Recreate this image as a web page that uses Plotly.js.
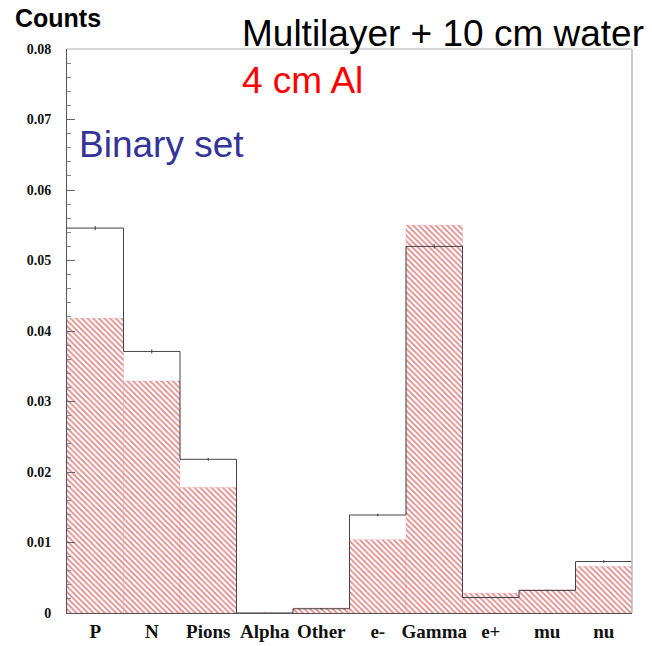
<!DOCTYPE html>
<html>
<head>
<meta charset="utf-8">
<script src="https://cdn.plot.ly/plotly-3.0.1.min.js"></script>
<style>html,body{margin:0;padding:0;background:#fff;}#chart{width:652px;height:646px;}</style>
</head>
<body>
<div id="chart"></div>
<script>
// Data
const categories = ["P", "N", "Pions", "Alpha", "Other", "e-", "Gamma", "e+", "mu", "nu"];
const binaryCounts = [0.0546, 0.0371, 0.0218, 0.0000, 0.0006, 0.0139, 0.0520, 0.0022, 0.0032, 0.0073];
const binaryErrors = [0.0003, 0.0003, 0.0002, 0.0000, 0.0001, 0.0002, 0.0003, 0.0001, 0.0001, 0.0002];
const alCounts = [0.0418, 0.0329, 0.0178, 0.0000, 0.0007, 0.0104, 0.0550, 0.0028, 0.0033, 0.0066];
const yTickVals = [0, 0.01, 0.02, 0.03, 0.04, 0.05, 0.06, 0.07, 0.08];
const yTickText = ["0", "0.01", "0.02", "0.03", "0.04", "0.05", "0.06", "0.07", "0.08"];

const centers = categories.map((c, i) => i + 0.5);
// step outline built from bin edges
const stepX = categories.map((c, i) => i).concat([categories.length]);
const stepY = binaryCounts.concat([binaryCounts[binaryCounts.length - 1]]);

const traces = [
  {
    type: "bar", x: centers, y: alCounts, width: 1,
    marker: {
      color: "#ffffff",
      line: {color: "rgba(225,120,120,0.5)", width: 0.5},
      pattern: {shape: "\\", fgcolor: "#e08585", bgcolor: "#ffffff", size: 4, solidity: 0.4}
    },
    hoverinfo: "skip", showlegend: false
  },
  {
    type: "scatter", mode: "lines", x: stepX, y: stepY,
    line: {shape: "hv", color: "#444", width: 1},
    hoverinfo: "skip", showlegend: false
  },
  {
    type: "scatter", mode: "markers", x: centers, y: binaryCounts,
    marker: {size: 1, color: "#444"},
    error_y: {type: "data", array: binaryErrors, visible: true, color: "#444", thickness: 1, width: 0},
    hoverinfo: "skip", showlegend: false
  }
];

const layout = {
  width: 652, height: 646,
  margin: {l: 67, r: 20, t: 49, b: 33, pad: 0},
  paper_bgcolor: "#fff", plot_bgcolor: "#fff",
  showlegend: false,
  bargap: 0,
  xaxis: {
    range: [0, categories.length], tickmode: "array", tickvals: centers, ticktext: categories,
    ticks: "", showgrid: false, zeroline: false,
    showline: true, linecolor: "#555", linewidth: 1,
    ticklabelstandoff: 1,
    tickfont: {family: "Liberation Serif", size: 19, color: "#111", weight: "bold"},
    fixedrange: true
  },
  yaxis: {
    range: [0, 0.08], tickmode: "array", tickvals: yTickVals, ticktext: yTickText,
    ticks: "inside", ticklen: 8, tickcolor: "#666", tickwidth: 1,
    minor: {dtick: 0.002, ticks: "inside", ticklen: 4, tickcolor: "#888", tickwidth: 1},
    showgrid: false, zeroline: false,
    showline: true, linecolor: "#555", linewidth: 1,
    ticklabelstandoff: 12,
    tickfont: {family: "Liberation Serif", size: 14, color: "#111", weight: "bold"},
    fixedrange: true
  },
  shapes: [
    {type: "line", xref: "paper", yref: "paper", x0: 0, x1: 1, y0: 1, y1: 1, line: {color: "#c8c8c8", width: 1.5}},
    {type: "line", xref: "paper", yref: "paper", x0: 1, x1: 1, y0: 0, y1: 1, line: {color: "#bbbbbb", width: 1.5}}
  ],
  annotations: [
    {text: "<b>Counts</b>", xref: "paper", yref: "paper", x: (13 - 67) / 565, y: (613 - 18) / 564,
     xanchor: "left", yanchor: "middle", showarrow: false,
     font: {family: "Liberation Sans", size: 25, color: "#000"}},
    {text: "Multilayer + 10 cm water", xref: "paper", yref: "paper", x: (240 - 67) / 565, y: (613 - 34) / 564,
     xanchor: "left", yanchor: "middle", showarrow: false,
     font: {family: "Liberation Sans", size: 37, color: "#000"}},
    {text: "4 cm Al", xref: "paper", yref: "paper", x: (240 - 67) / 565, y: (613 - 80) / 564,
     xanchor: "left", yanchor: "middle", showarrow: false,
     font: {family: "Liberation Sans", size: 37, color: "#ff0000"}},
    {text: "Binary set", xref: "paper", yref: "paper", x: (77 - 67) / 565, y: (613 - 144) / 564,
     xanchor: "left", yanchor: "middle", showarrow: false,
     font: {family: "Liberation Sans", size: 37, color: "#333399"}}
  ]
};

Plotly.newPlot("chart", traces, layout, {displayModeBar: false, staticPlot: true});
</script>
</body>
</html>
